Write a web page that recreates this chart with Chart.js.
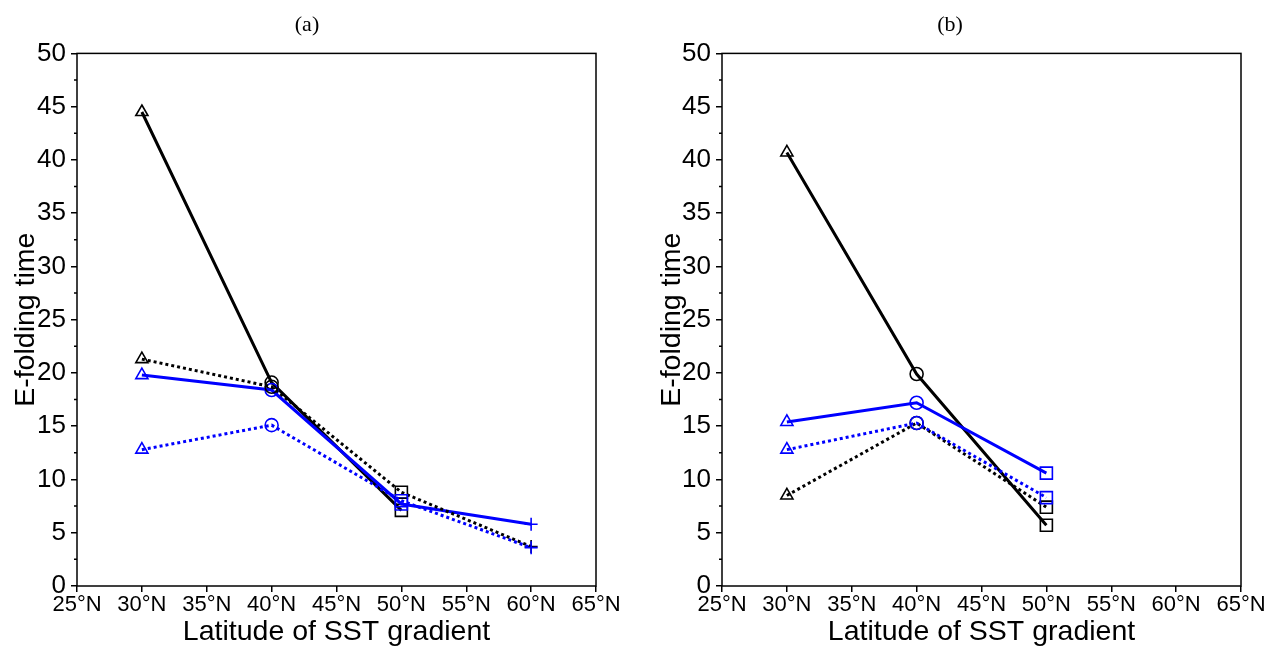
<!DOCTYPE html>
<html>
<head>
<meta charset="utf-8">
<title>E-folding time vs latitude of SST gradient</title>
<script src="https://cdn.jsdelivr.net/npm/chart.js@4.4.1/dist/chart.umd.min.js"></script>
<style>
  body { margin: 0; background: #fff; }
  .panel { position: absolute; top: 0; }
</style>
</head>
<body>
<canvas id="chartA" class="panel" width="638" height="649" style="left:0"></canvas>
<canvas id="chartB" class="panel" width="638" height="649" style="left:638px"></canvas>
<script>
// latitudes (deg N) where the SST gradient sits
const latA = [30, 40, 50, 60];
const latB = [30, 40, 50];

// axis ticks
const latTicks = [25, 30, 35, 40, 45, 50, 55, 60, 65];
const timeTicks = [0, 5, 10, 15, 20, 25, 30, 35, 40, 45, 50];

// marker used at each latitude
const markers = ['triangle', 'circle', 'rect', 'cross'];

// panel (a)
const aBlackSolid = [44.5, 19.1, 7.1];
const aBlackDotted = [21.3, 18.7, 8.8, 3.7];
const aBlueSolid = [19.8, 18.4, 7.7, 5.8];
const aBlueDotted = [12.8, 15.1, 8.0, 3.6];

// panel (b)
const bBlackSolid = [40.7, 19.9, 5.7];
const bBlackDotted = [8.5, 15.3, 7.4];
const bBlueSolid = [15.4, 17.2, 10.6];
const bBlueDotted = [12.8, 15.3, 8.3];

Chart.defaults.font.family = '"Liberation Sans", Arial, sans-serif';
Chart.defaults.color = '#000';

const markerSize = { triangle: 7, circle: 6.5, rect: 8.5, cross: 6.5 };

function series(lats, vals, color, dotted) {
  return {
    data: vals.map((v, i) => ({ x: lats[i], y: v })),
    borderColor: color,
    borderWidth: 3,
    borderDash: dotted ? [3, 3] : [],
    backgroundColor: 'rgba(0,0,0,0)',
    tension: 0,
    pointStyle: vals.map((v, i) => markers[i]),
    pointRadius: vals.map((v, i) => markerSize[markers[i]]),
    pointBorderWidth: 1.6,
    pointBorderColor: color,
    pointBackgroundColor: 'rgba(0,0,0,0)'
  };
}

// box round the plot and short minor ticks on the y axis
const framePlugin = {
  id: 'frame',
  afterDraw(chart) {
    const { ctx, chartArea: a } = chart;
    const y = chart.scales.y;
    ctx.save();
    ctx.strokeStyle = '#000';
    ctx.lineWidth = 1.5;
    ctx.strokeRect(a.left, a.top, a.right - a.left, a.bottom - a.top);
    ctx.beginPath();
    for (let v = y.min + 2.5; v < y.max; v += 5) {
      const py = y.getPixelForValue(v);
      ctx.moveTo(a.left - 3, py);
      ctx.lineTo(a.left, py);
    }
    ctx.stroke();
    ctx.restore();
  }
};

function makeChart(id, label, datasets, pad, yWidth, yTitlePad) {
  return new Chart(document.getElementById(id), {
    type: 'line',
    data: { datasets },
    options: {
      responsive: false,
      animation: false,
      layout: { padding: { left: pad.left, right: pad.right, top: 0, bottom: 0 } },
      plugins: {
        legend: { display: false },
        tooltip: { enabled: false },
        title: {
          display: true,
          text: label,
          color: '#000',
          font: { family: '"Liberation Serif", "Times New Roman", serif', size: 22, weight: 'normal', lineHeight: 1.2 },
          padding: { top: 12, bottom: 15 }
        }
      },
      scales: {
        x: {
          type: 'linear',
          min: 25,
          max: 65,
          afterBuildTicks: s => { s.ticks = latTicks.map(v => ({ value: v })); },
          afterFit: s => { s.height = 63; },
          ticks: {
            font: { size: 22 },
            padding: 0,
            maxRotation: 0,
            autoSkip: false,
            callback: v => v + '°N'
          },
          grid: { display: true, drawOnChartArea: false, drawTicks: true, tickLength: 6, color: '#000', lineWidth: 1.5 },
          border: { display: false },
          title: {
            display: true,
            text: 'Latitude of SST gradient',
            font: { size: 28.5 },
            padding: { top: 0, bottom: 0 }
          }
        },
        y: {
          min: 0,
          max: 50,
          afterBuildTicks: s => { s.ticks = timeTicks.map(v => ({ value: v })); },
          afterFit: s => { s.width = yWidth; },
          ticks: { font: { size: 26 }, padding: 5 },
          grid: { display: true, drawOnChartArea: false, drawTicks: true, tickLength: 6, color: '#000', lineWidth: 1.5 },
          border: { display: false },
          title: {
            display: true,
            text: 'E-folding time',
            font: { size: 28.5 },
            padding: { top: yTitlePad, bottom: 0 }
          }
        }
      }
    },
    plugins: [framePlugin]
  });
}

makeChart('chartA', '(a)', [
  series(latA, aBlueDotted, '#0000ff', true),
  series(latA, aBlackDotted, '#000000', true),
  series(latA, aBlueSolid, '#0000ff', false),
  series(latA, aBlackSolid, '#000000', false)
], { left: 18, right: 42 }, 59, -9);

makeChart('chartB', '(b)', [
  series(latB, bBlueDotted, '#0000ff', true),
  series(latB, bBlackDotted, '#000000', true),
  series(latB, bBlueSolid, '#0000ff', false),
  series(latB, bBlackSolid, '#000000', false)
], { left: 21, right: 35 }, 63, -4);
</script>
</body>
</html>
